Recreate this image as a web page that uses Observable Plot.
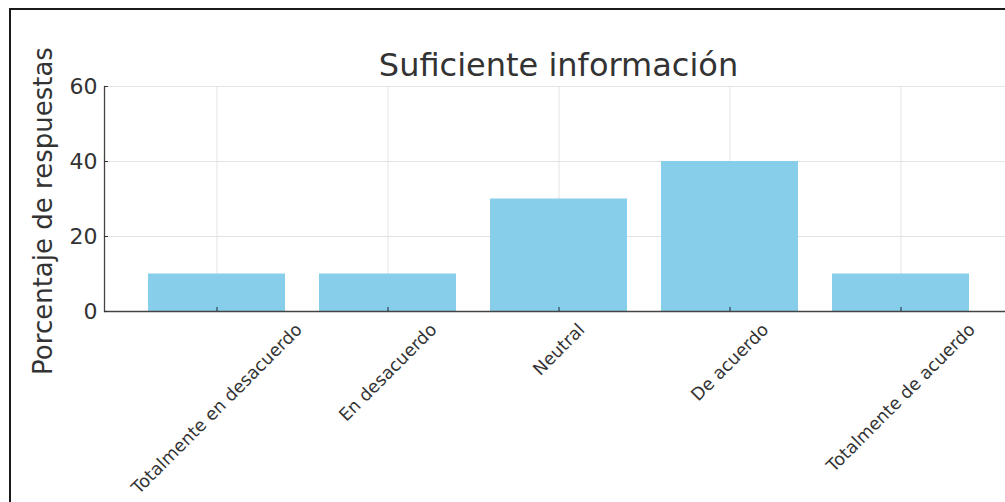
<!DOCTYPE html>
<html>
<head>
<meta charset="utf-8">
<script src="https://cdn.jsdelivr.net/npm/d3@7"></script>
<script src="https://cdn.jsdelivr.net/npm/@observablehq/plot@0.6"></script>
<style>
  html, body { margin: 0; padding: 0; background: #fff; }
  #wrap { position: relative; width: 1005px; height: 502px; overflow: hidden; background: #fff; }
  #chart svg { display: block; }
  #border { position: absolute; left: 9px; top: 8px; width: 1200px; height: 700px;
            border: 2.5px solid #1a1a1a; box-sizing: border-box; pointer-events: none; }
</style>
</head>
<body>
<div id="wrap"><div id="chart"></div><div id="border"></div></div>
<script>
// ---- data ----
const categories = ["Totalmente en desacuerdo", "En desacuerdo", "Neutral", "De acuerdo", "Totalmente de acuerdo"];
const values = [10, 10, 30, 40, 10];
const yTicks = [0, 20, 40, 60];
const yDomain = [0, 60];
const chartTitle = "Suficiente información";
const yLabel = "Porcentaje de respuestas";

// ---- layout ----
const W = 1005, H = 502;
const mTop = 86, mBottom = 191, mLeft = 104, mRight = 0;
const xRange = [104, 1012];
const font = "DejaVu Sans";
const xFont = 17.5, yFont = 22, labFont = 26, titleFont = 32;
const textColor = "#333";

const data = categories.map((c, i) => ({category: c, value: values[i]}));

// standalone y scale, same as the chart's, used to place rotated tick labels
const yS = Plot.scale({y: {domain: yDomain, range: [H - mBottom, mTop]}});
const ctx = document.createElement("canvas").getContext("2d");
ctx.font = `${xFont}px "${font}"`;
const lineH = xFont * 1.17;
const y0px = yS.apply(0);
const labelData = categories.map(c => {
  const L = ctx.measureText(c).width;
  const cy = y0px + 8 + Math.SQRT1_2 * (L + lineH) / 2;
  return {category: c, ly: yS.invert(cy)};
});

const chart = Plot.plot({
  width: W,
  height: H,
  marginTop: mTop,
  marginBottom: mBottom,
  marginLeft: mLeft,
  marginRight: mRight,
  style: {fontFamily: font, background: "#fff", color: textColor},
  x: {domain: categories, range: xRange, paddingInner: 0.2, paddingOuter: 0.24, align: 0.5},
  y: {domain: yDomain, nice: false},
  marks: [
    Plot.gridY(yTicks, {stroke: "#e3e3e3", strokeOpacity: 1, strokeWidth: 1}),
    Plot.gridX(categories, {stroke: "#e3e3e3", strokeOpacity: 1, strokeWidth: 1}),
    Plot.barY(data, {x: "category", y: "value", fill: "#87CEEB"}),
    Plot.frame({anchor: "left", stroke: "#444", strokeWidth: 1.3}),
    Plot.ruleY([0], {stroke: "#444", strokeWidth: 1.6}),
    Plot.axisY(yTicks, {tickSize: -4, tickPadding: 11, fontSize: yFont, label: null, stroke: "#333", fill: textColor}),
    Plot.axisX(categories, {tickSize: -4, tickFormat: () => "", label: null, stroke: "#223"}),
    Plot.text(labelData, {x: "category", y: "ly", text: "category", rotate: -45,
      textAnchor: "middle", lineAnchor: "middle", fontSize: xFont, fill: textColor}),
    Plot.text([chartTitle], {frameAnchor: "top", lineAnchor: "middle", textAnchor: "middle",
      dy: -21, dx: 3.5, fontSize: titleFont, fill: textColor}),
    Plot.text([yLabel], {frameAnchor: "left", lineAnchor: "middle", textAnchor: "middle",
      dx: -61, dy: 12, rotate: -90, fontSize: labFont, fill: textColor})
  ]
});
document.getElementById("chart").appendChild(chart);
</script>
</body>
</html>
